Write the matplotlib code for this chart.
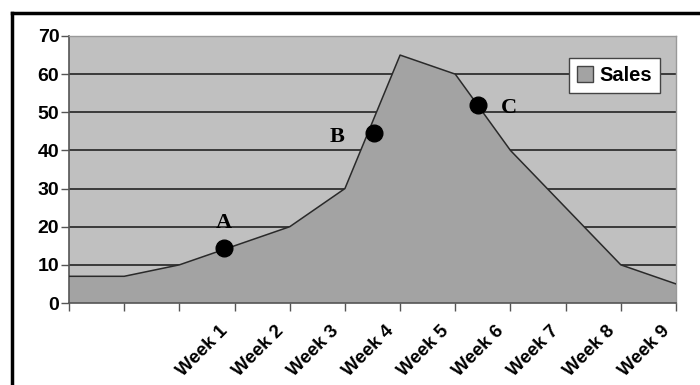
import matplotlib.pyplot as plt
from matplotlib.lines import Line2D
from matplotlib.patches import Patch

# Data
weeks = ['', '', '', 'Week 1', 'Week 2', 'Week 3', 'Week 4', 'Week 5',
         'Week 6', 'Week 7', 'Week 8', 'Week 9']
sales = [7, 7, 10, 15, 20, 30, 65, 60, 40, 25, 10, 5]

# Marked points A, B, C (x in category units)
point_names = ['A', 'B', 'C']
point_x = [2.8, 5.52, 7.42]
point_y = [14.5, 44.6, 52]
label_x = [2.8, 4.86, 7.97]
label_y = [21, 43.6, 51.2]

fig = plt.figure(figsize=(7, 3.85), dpi=100)
ax = fig.add_axes([69/700, 82/385, 607/700, 267/385])

x = list(range(len(sales)))
ax.set_facecolor('#c0c0c0')
ax.fill_between(x, sales, 0, facecolor='#a3a3a3', edgecolor='none', zorder=2)
ax.plot(x, sales, color='#2a2a2a', lw=1.1, zorder=3)

ax.set_xlim(0, len(sales) - 1)
ax.set_ylim(0, 70)
ax.set_yticks(range(0, 71, 10))
ax.yaxis.grid(True, color='#3a3a3a', lw=1.4, zorder=1)
ax.set_axisbelow(True)

# ticks without labels, the week labels are placed by hand below
ax.set_xticks(x)
ax.set_xticklabels([])
for i, w in zip(x, weeks):
    if w:
        ax.annotate(w, xy=(i, 0), xycoords=('data', 'axes fraction'),
                    xytext=(-15, -19), textcoords='offset pixels',
                    rotation=45, ha='right', va='top', rotation_mode='anchor',
                    fontsize=13.5, fontweight='bold', family='Liberation Sans',
                    annotation_clip=False)
for lbl in ax.get_yticklabels():
    lbl.set_fontsize(14)
    lbl.set_fontweight('bold')
    lbl.set_family('Liberation Sans')

ax.tick_params(axis='both', direction='out', length=6, width=1, color='#555555')
ax.tick_params(axis='y', pad=1)
for s in ['left', 'bottom']:
    ax.spines[s].set_color('#555555')
    ax.spines[s].set_linewidth(1.2)
for s in ['top', 'right']:
    ax.spines[s].set_color('#999999')
    ax.spines[s].set_linewidth(1)

ax.plot(point_x, point_y, 'o', color='black', markersize=12, zorder=5)
for name, lx, ly in zip(point_names, label_x, label_y):
    ax.text(lx, ly, name, fontsize=16, fontweight='bold', family='Liberation Serif',
            ha='center', va='center', zorder=6)

handle = Patch(facecolor='#a3a3a3', edgecolor='#444444', lw=1)
leg = ax.legend([handle], ['Sales'], loc='upper right', bbox_to_anchor=(0.974, 0.918),
                borderaxespad=0, fancybox=False, framealpha=1, edgecolor='#444444',
                handlelength=0.8, handleheight=0.8, handletextpad=0.3, borderpad=0.4,
                prop={'family': 'Liberation Sans', 'weight': 'bold', 'size': 14.5})
leg.get_frame().set_linewidth(1)

# Black frame lines at top and left edge of the picture
fig.add_artist(Line2D([12/700, 1], [1 - 13/385, 1 - 13/385], color='black', lw=2.5,
                      transform=fig.transFigure))
fig.add_artist(Line2D([12/700, 12/700], [0, 1 - 13/385], color='black', lw=2.5,
                      transform=fig.transFigure))

fig.savefig('out.png', dpi=100)
